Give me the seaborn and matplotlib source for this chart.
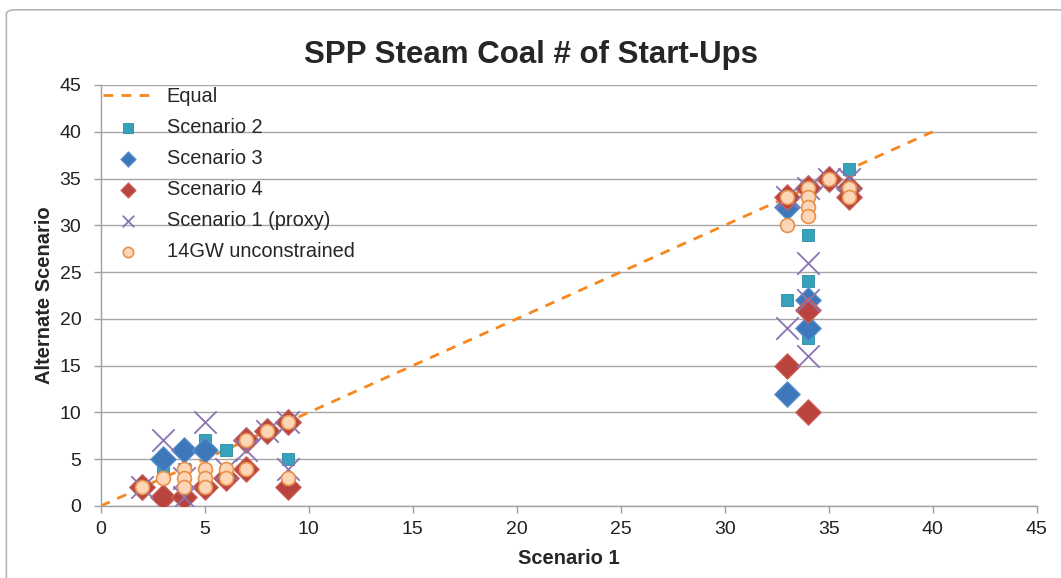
import pandas as pd
import matplotlib.pyplot as plt
import seaborn as sns
from matplotlib.patches import FancyBboxPatch

# Data
equal_x = [0, 40]
equal_y = [0, 40]

s2_x = [3, 5, 6, 9, 33, 34, 34, 34, 36, 2, 4, 7, 8, 33, 34, 35]
s2_y = [4, 7, 6, 5, 22, 29, 24, 18, 36, 2, 4, 7, 8, 33, 34, 35]

s3_x = [3, 4, 5, 33, 33, 34, 34, 2, 7, 8, 9, 34, 35, 36]
s3_y = [5, 6, 6, 32, 12, 22, 19, 2, 7, 8, 9, 34, 35, 34]

s4_x = [2, 3, 4, 9, 33, 34, 34, 5, 6, 7, 7, 8, 9, 33, 34, 35, 36, 36]
s4_y = [2, 1, 1, 2, 15, 21, 10, 2, 3, 7, 4, 8, 9, 33, 34, 35, 34, 33]

s1_x = [2, 3, 4, 5, 7, 8, 9, 9, 33, 34, 34, 34, 33, 34, 35, 36, 4, 6]
s1_y = [2, 7, 1, 9, 6, 8, 9, 4, 19, 26, 22, 16, 33, 34, 35, 35, 3, 4]

gw_x = [2, 3, 4, 4, 4, 5, 5, 5, 6, 6, 7, 7, 8, 9, 9,
        33, 33, 34, 34, 34, 34, 35, 36, 36]
gw_y = [2, 3, 4, 3, 2, 4, 3, 2, 4, 3, 7, 4, 8, 9, 3,
        33, 30, 34, 33, 32, 31, 35, 34, 33]

sns.set_theme(style="white")
plt.rcParams['font.family'] = ['Liberation Sans', 'DejaVu Sans']

fig = plt.figure(figsize=(10.61, 5.78), dpi=100)
ax = fig.add_axes([0.095, 0.1246, 0.882, 0.7284])

# outer chart border (right and bottom edges run off the picture)
fig.patches.append(FancyBboxPatch((0.006, -0.05), 1.1, 1.033, boxstyle="round,pad=0,rounding_size=0.008",
                                  transform=fig.transFigure, fill=False, edgecolor='#B5B5B5', lw=1.2))

sns.lineplot(x=equal_x, y=equal_y, ax=ax, color='#F7861E', lw=2, linestyle=(0, (3.5, 3)),
             label='Equal', zorder=1)

sns.scatterplot(x=s2_x, y=s2_y, ax=ax, marker='s', s=85, color='#36A2BC',
                edgecolor='#2C8AA1', linewidth=0.6, label='Scenario 2', zorder=2)
sns.scatterplot(x=s3_x, y=s3_y, ax=ax, marker='D', s=170, color='#3E78BA',
                edgecolor='#5C93CF', linewidth=0.8, label='Scenario 3', zorder=3)
sns.scatterplot(x=s4_x, y=s4_y, ax=ax, marker='D', s=170, color='#B8443D',
                edgecolor='#D0665E', linewidth=0.8, label='Scenario 4', zorder=4)
sns.scatterplot(x=s1_x, y=s1_y, ax=ax, marker='x', s=260, color='#8B74B2',
                linewidth=1.3, label='Scenario 1 (proxy)', zorder=5)
sns.scatterplot(x=gw_x, y=gw_y, ax=ax, marker='o', s=100, color='#FCD6B6',
                edgecolor='#E8914A', linewidth=1.2, label='14GW unconstrained', zorder=6)

ax.set_xlim(0, 45)
ax.set_ylim(0, 45)
ax.set_xticks(range(0, 46, 5))
ax.set_yticks(range(0, 46, 5))
ax.yaxis.grid(True, color='#A6A6A6', lw=1)
ax.xaxis.grid(False)
for side in ['top', 'right']:
    ax.spines[side].set_visible(False)
for side in ['left', 'bottom']:
    ax.spines[side].set_color('#A0A0A0')
    ax.spines[side].set_linewidth(1)
ax.tick_params(axis='both', which='major', direction='out', length=5, width=1,
               color='#A0A0A0', labelsize=14, labelcolor='#222222', left=True, bottom=True)
ax.tick_params(axis='x', pad=6)
ax.tick_params(axis='y', pad=9)

ax.set_xlabel('Scenario 1', fontsize=14.5, fontweight='bold', labelpad=8)
ax.set_ylabel('Alternate Scenario', fontsize=14.5, fontweight='bold', labelpad=4)
fig.suptitle('SPP Steam Coal # of Start-Ups', fontsize=22.5, fontweight='bold', y=0.905, va='center')

handles, labels = ax.get_legend_handles_labels()
leg = ax.legend(handles, labels, loc='upper left', bbox_to_anchor=(0.0, 1.0), frameon=False,
                fontsize=14.4, handlelength=2.5, handletextpad=0.7,
                labelspacing=0.6, borderaxespad=0.0, borderpad=0.1)
legend_sizes = [None, 50, 60, 60, 70, 55]
for h, sz in zip(leg.legend_handles, legend_sizes):
    if sz is not None:
        h.set_sizes([sz])

plt.savefig('out.png', dpi=100)
